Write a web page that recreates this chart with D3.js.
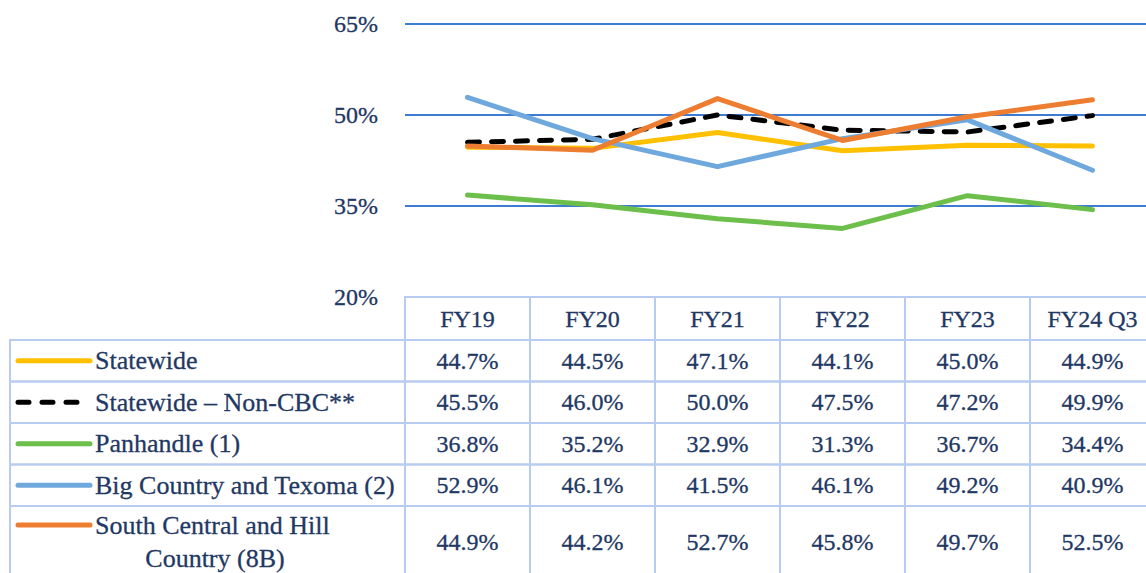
<!DOCTYPE html>
<html>
<head>
<meta charset="utf-8">
<script src="https://cdn.jsdelivr.net/npm/d3@7"></script>
<style>
  html, body { margin: 0; padding: 0; background: #ffffff; }
  svg { display: block; }
</style>
</head>
<body>
<svg id="chart" width="1146" height="573"></svg>
<script>
// ---- data ----
const categories = ["FY19", "FY20", "FY21", "FY22", "FY23", "FY24 Q3"];
const seriesNames = ["Statewide", "Statewide – Non-CBC**", "Panhandle (1)", "Big Country and Texoma (2)", "South Central and Hill Country (8B)"];
const statewide     = [44.7, 44.5, 47.1, 44.1, 45.0, 44.9];
const nonCBC        = [45.5, 46.0, 50.0, 47.5, 47.2, 49.9];
const panhandle     = [36.8, 35.2, 32.9, 31.3, 36.7, 34.4];
const bigCountry    = [52.9, 46.1, 41.5, 46.1, 49.2, 40.9];
const southCentral  = [44.9, 44.2, 52.7, 45.8, 49.7, 52.5];
const yTicks = [20, 35, 50, 65];
const gridTicks = [35, 50, 65];

const seriesColors = ["#ffc000", "#000000", "#6cbf4a", "#6fa8dc", "#ed7d31"];
const seriesDash = [null, "12,12", null, null, null];
const labelLines = [["Statewide"], ["Statewide – Non-CBC**"], ["Panhandle (1)"], ["Big Country and Texoma (2)"], ["South Central and Hill", "Country (8B)"]];

const series = seriesNames.map((name, i) => ({
  name,
  values: [statewide, nonCBC, panhandle, bigCountry, southCentral][i],
  color: seriesColors[i],
  dash: seriesDash[i],
  lines: labelLines[i]
}));

// ---- layout ----
const FONT = "'Liberation Serif'";
const svg = d3.select("#chart");
const plotLeft = 405, plotRight = 1155;
const yTop = 24, yBottom = 297;
const x = d3.scaleBand().domain(categories).range([plotLeft, plotRight]).padding(0);
const y = d3.scaleLinear().domain([20, 65]).range([yBottom, yTop]);

const gridColor = "#3d7cd2";
const tableColor = "#b8cbf0";
const textColor = "#1f3864";

function styleText(sel, size) {
  return sel.style("font-family", FONT).style("font-size", size + "px")
    .style("fill", textColor).style("stroke", textColor).style("stroke-width", "0.3px");
}

// gridlines
svg.append("g").selectAll("line").data(gridTicks).join("line")
  .attr("x1", plotLeft).attr("x2", 1146)
  .attr("y1", d => y(d)).attr("y2", d => y(d))
  .attr("stroke", gridColor).attr("stroke-width", 1.8);

// y axis labels
const yAxis = d3.axisLeft(y).tickValues(yTicks).tickFormat(d => d + "%").tickSize(0).tickPadding(27);
const ya = svg.append("g").attr("transform", `translate(${plotLeft},0)`).call(yAxis);
ya.attr("font-family", null).attr("font-size", null);
ya.select(".domain").remove();
styleText(ya.selectAll("text"), 24);

// lines
const lineGen = d3.line().x((d, i) => x(categories[i]) + x.bandwidth() / 2).y(d => y(d));
svg.append("g").selectAll("path").data(series).join("path")
  .attr("d", d => lineGen(d.values))
  .attr("fill", "none")
  .attr("stroke", d => d.color)
  .attr("stroke-width", 5)
  .attr("stroke-linecap", "round")
  .attr("stroke-linejoin", "round")
  .attr("stroke-dasharray", d => d.dash);

// ---- data table ----
const tableLeft = 10;
const headerTop = yBottom, headerBottom = 340;
const rowBounds = [340, 381.5, 423, 464.5, 506, 592];
const tbl = svg.append("g");

categories.forEach(c => {
  tbl.append("rect")
    .attr("x", x(c)).attr("y", headerTop)
    .attr("width", x.bandwidth()).attr("height", headerBottom - headerTop)
    .attr("fill", "none").attr("stroke", tableColor).attr("stroke-width", 2);
  styleText(tbl.append("text")
    .attr("x", x(c) + x.bandwidth() / 2).attr("y", (headerTop + headerBottom) / 2)
    .attr("text-anchor", "middle").attr("dominant-baseline", "central"), 24).text(c);
});

series.forEach((s, r) => {
  const top = rowBounds[r], bot = rowBounds[r + 1];
  const mid = r === 4 ? 542 : (top + bot) / 2;
  tbl.append("rect")
    .attr("x", tableLeft).attr("y", top)
    .attr("width", plotLeft - tableLeft).attr("height", bot - top)
    .attr("fill", "none").attr("stroke", tableColor).attr("stroke-width", 2);
  const legendY = r === 4 ? 525 : mid;
  tbl.append("line")
    .attr("x1", 18).attr("x2", 90)
    .attr("y1", legendY).attr("y2", legendY)
    .attr("stroke", s.color).attr("stroke-width", 5)
    .attr("stroke-linecap", "round")
    .attr("stroke-dasharray", s.dash ? "11,13" : null);
  if (s.lines.length === 1) {
    styleText(tbl.append("text")
      .attr("x", 95).attr("y", mid)
      .attr("dominant-baseline", "central"), 26).text(s.lines[0]);
  } else {
    styleText(tbl.append("text")
      .attr("x", 95).attr("y", 525)
      .attr("dominant-baseline", "central"), 26).text(s.lines[0]);
    styleText(tbl.append("text")
      .attr("x", 215).attr("y", 558)
      .attr("text-anchor", "middle")
      .attr("dominant-baseline", "central"), 26).text(s.lines[1]);
  }
  categories.forEach((c, i) => {
    tbl.append("rect")
      .attr("x", x(c)).attr("y", top)
      .attr("width", x.bandwidth()).attr("height", bot - top)
      .attr("fill", "none").attr("stroke", tableColor).attr("stroke-width", 2);
    styleText(tbl.append("text")
      .attr("x", x(c) + x.bandwidth() / 2).attr("y", mid)
      .attr("text-anchor", "middle").attr("dominant-baseline", "central"), 24)
      .text(s.values[i].toFixed(1) + "%");
  });
});
</script>
</body>
</html>
